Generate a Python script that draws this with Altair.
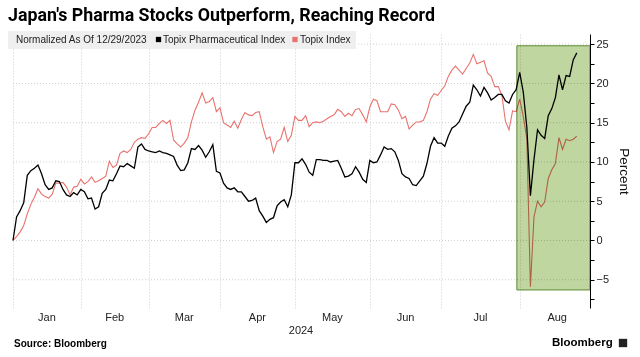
import altair as alt
import pandas as pd

# Trading-day index 0 = 2023-12-29 (normalization date)
pharma = [0, 3.0, 3.8, 4.8, 8.3, 8.9, 9.2, 9.6, 8.5, 7.1,
          6.5, 6.7, 7.6, 7.5, 6.5, 5.8, 5.6, 6.1, 5.8, 6.5,
          6.2, 5.3, 5.4, 4.0, 4.3, 6.0, 6.5, 7.7, 7.6, 8.5,
          9.5, 9.4, 9.8, 9.5, 9.2, 11.9, 12.3, 11.6, 11.4, 11.3,
          11.2, 11.4, 11.2, 11.1, 10.9, 10.7, 9.6, 8.9, 9.0, 9.9,
          11.7, 11.6, 12.1, 11.5, 10.6, 11.3, 12.2, 8.8, 8.6, 7.3,
          6.7, 6.5, 6.7, 6.2, 6.2, 5.6, 5.0, 5.1, 5.4, 3.8,
          3.1, 2.3, 2.7, 2.9, 4.4, 4.9, 5.2, 4.3, 5.8, 9.9,
          9.9, 10.4, 9.7, 8.7, 8.3, 10.3, 10.3, 10.2, 10.2, 10.0,
          10.1, 10.2, 9.2, 8.1, 8.2, 8.5, 9.4, 8.7, 7.8, 7.4,
          10.2, 9.9, 10.0, 10.9, 11.9, 11.6, 11.7, 11.3, 10.2, 8.5,
          8.1, 7.9, 7.1, 7.0, 7.6, 8.2, 9.8, 12.0, 13.1, 12.4,
          12.4, 12.0, 13.3, 14.3, 14.6, 15.1, 16.1, 17.1, 17.6, 19.8,
          19.2, 18.4, 19.5, 18.8, 17.9, 18.2, 18.6, 18.6, 17.8, 17.5,
          18.6, 19.2, 21.4, 18.9, 14.4, 5.7, 10.3, 14.1, 13.4, 13.0,
          15.9, 16.8, 18.2, 21.1, 19.2, 21.0, 20.9, 23.0, 23.9]

topix = [0, 0.5, 1.1, 1.9, 3.4, 4.6, 5.5, 6.6, 5.9, 5.6,
         5.4, 5.9, 7.3, 7.3, 7.4, 6.8, 5.8, 6.8, 6.9, 7.8,
         7.2, 7.5, 8.1, 7.4, 7.6, 7.9, 8.2, 10.1, 9.3, 9.6,
         11.1, 11.4, 11.2, 11.6, 12.5, 12.9, 13.1, 13.0, 13.6, 14.4,
         14.4, 14.9, 15.3, 14.9, 15.3, 12.8, 12.3, 11.9, 12.4, 13.1,
         15.1, 16.6, 17.6, 18.8, 17.5, 17.7, 18.2, 16.4, 16.9, 15.0,
         14.7, 14.4, 15.2, 14.3, 15.4, 16.3, 16.0, 15.9, 16.3, 16.4,
         14.5, 12.9, 13.2, 11.2, 12.6, 12.9, 14.4, 12.6, 13.4, 15.8,
         15.3, 15.3, 15.9, 14.5, 15.0, 15.1, 15.0, 15.2, 15.5, 15.8,
         16.0, 16.7, 16.4, 15.8, 16.2, 15.9, 16.7, 16.8, 16.0, 15.1,
         17.0, 18.0, 17.8, 16.4, 16.4, 16.4, 17.4, 17.3, 16.6, 15.5,
         15.8, 14.2, 14.7, 15.1, 15.1, 15.3, 16.4, 18.0, 18.7, 18.5,
         19.1, 19.7, 20.9, 21.7, 22.2, 21.7, 21.2, 21.9, 22.6, 23.7,
         22.5, 22.7, 22.9, 21.3, 20.9, 19.6, 19.6, 18.5, 15.2, 14.1,
         16.5, 16.4, 18.0, 15.8, 13.0, -5.9, 3.0, 5.0, 4.3, 4.9,
         7.9, 9.0, 9.8, 13.1, 11.6, 12.9, 12.7, 12.9, 13.3]

months = ["Jan", "Feb", "Mar", "Apr", "May", "Jun", "Jul", "Aug"]
month_bounds = [0, 19, 38, 58, 79, 100, 120, 142]      # last trading day of previous month
month_centers = [9.5, 28.5, 48, 68.5, 89.5, 110, 131, 152.5]

band_start, band_end = 141.2, 161.7
band_low, band_high = -6.3, 24.8

X_DOMAIN = [0, 161.7]
Y_DOMAIN = [-8.6, 26.3]
y_ticks = [-7.5, -5, -2.5, 0, 2.5, 5, 7.5, 10, 12.5, 15, 17.5, 20, 22.5, 25]
y_grid = [-5, 0, 5, 10, 15, 20, 25]

W, H = 577, 274
PAD = {"left": 13, "top": 34, "right": 50, "bottom": 49}

ph_df = pd.DataFrame({"day": list(range(len(pharma))), "value": pharma})
tp_df = pd.DataFrame({"day": list(range(len(topix))), "value": topix})
band_df = pd.DataFrame({"day": [band_start], "x2": [band_end], "value": [band_low], "y2": [band_high]})
month_df = pd.DataFrame({"day": month_centers, "label": months})
grid_df = pd.DataFrame({"value": y_grid})

xscale = alt.Scale(domain=X_DOMAIN, nice=False, zero=False)
yscale = alt.Scale(domain=Y_DOMAIN, nice=False, zero=False)

x_axis = alt.Axis(values=month_bounds, labels=False, ticks=False, domain=False, grid=True,
                  gridColor="#cfcfcf", gridDash=[1, 2], gridWidth=1, title=None)
y_axis = alt.Axis(orient="right", values=y_ticks,
                  labelExpr="(datum.value % 5 == 0) ? datum.label : ''",
                  grid=False, labelOverlap=False,
                  domainColor="#000000", domainWidth=1, tickColor="#000000", tickSize=4,
                  labelFont="Liberation Sans", labelFontSize=11, labelColor="#222222", labelPadding=2,
                  title="Percent", titleFont="Liberation Sans", titleFontSize=13.5,
                  titleFontWeight="normal", titleColor="#111111", titlePadding=8)

X = alt.X("day:Q", scale=xscale, axis=x_axis, title=None)
Y = alt.Y("value:Q", scale=yscale, axis=y_axis, title="Percent")

hgrid = alt.Chart(grid_df).mark_rule(color="#cfcfcf", strokeDash=[1, 2], strokeWidth=1).encode(y=Y)

topix_line = alt.Chart(tp_df).mark_line(color="#e8736e", strokeWidth=1.1).encode(x=X, y=Y)
pharma_line = alt.Chart(ph_df).mark_line(color="#000000", strokeWidth=1.3).encode(x=X, y=Y)

band = alt.Chart(band_df).mark_rect(fill="#bfd6a0", stroke="#5d8a35", strokeWidth=1,
                                    blend="multiply").encode(x=X, x2="x2:Q", y=Y, y2="y2:Q")

month_text = alt.Chart(month_df).mark_text(font="Liberation Sans", fontSize=11, color="#222222",
                                           baseline="middle").encode(
    x=X, y=alt.value(317.5 - PAD["top"]), text="label:N")

one = pd.DataFrame({"a": [0]})

def deco_text(txt, x, y, size, weight="normal", color="#111111", align="left", font="Liberation Sans"):
    return alt.Chart(one).mark_text(text=txt, font=font, fontSize=size, fontWeight=weight,
                                    color=color, align=align, baseline="middle").encode(
        x=alt.value(x - PAD["left"]), y=alt.value(y - PAD["top"]))

legend_bg = alt.Chart(one).mark_rect(fill="#efefef").encode(
    x=alt.value(8 - PAD["left"]), x2=alt.value(356 - PAD["left"]),
    y=alt.value(31 - PAD["top"]), y2=alt.value(49 - PAD["top"]))

def legend_square(x, color):
    return alt.Chart(one).mark_square(color=color, size=28, opacity=1).encode(
        x=alt.value(x - PAD["left"]), y=alt.value(39.5 - PAD["top"]))

title = deco_text("Japan's Pharma Stocks Outperform, Reaching Record", 8, 16, 17.8,
                  weight="bold", color="#000000", font="Roboto")
leg1 = deco_text("Normalized As Of 12/29/2023", 16, 39.5, 10, color="#222222")
leg2 = deco_text("Topix Pharmaceutical Index", 163, 39.5, 10, color="#222222")
leg3 = deco_text("Topix Index", 300, 39.5, 10, color="#222222")
year = deco_text("2024", 301, 330.5, 11, color="#222222", align="center")
source = deco_text("Source: Bloomberg", 14, 344, 10, weight="bold", color="#000000")
brand = deco_text("Bloomberg", 552, 343, 11.5, weight="bold", color="#000000")
brand_icon = alt.Chart(one).mark_square(color="#222222", size=70, opacity=1).encode(
    x=alt.value(623 - PAD["left"]), y=alt.value(343 - PAD["top"]))

chart = alt.layer(
    hgrid, topix_line, pharma_line, band, month_text,
    legend_bg, legend_square(158.5, "#000000"), legend_square(295, "#e8736e"),
    leg1, leg2, leg3, title, year, source, brand, brand_icon
).properties(
    width=W, height=H, padding=PAD, autosize=alt.AutoSizeParams(type="none"),
    background="#ffffff"
).configure_view(stroke=None)

chart.save("out.html", embed_options={"renderer": "svg", "actions": False})
